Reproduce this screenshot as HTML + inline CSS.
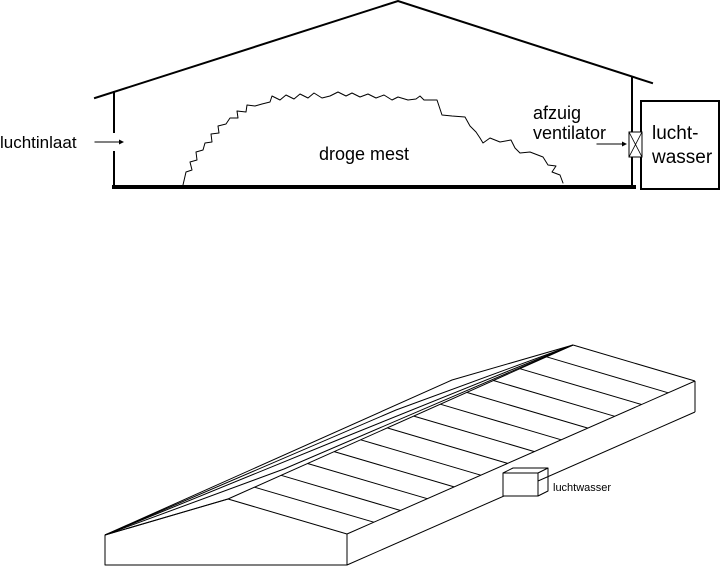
<!DOCTYPE html>
<html><head><style>
html,body{margin:0;padding:0;background:#fff;}
svg{display:block;}
text{font-family:"Liberation Sans",Arial,sans-serif;fill:#000;}
</style></head><body>
<svg width="720" height="566" viewBox="0 0 720 566" xmlns="http://www.w3.org/2000/svg">
<g stroke="#000" fill="none" stroke-linecap="square">
<polyline points="95,98 398,1 652,83" stroke-width="2"/>
<line x1="114" y1="92" x2="114" y2="132" stroke-width="2"/>
<line x1="114" y1="152" x2="114" y2="187" stroke-width="2"/>
<line x1="632" y1="77" x2="632" y2="187" stroke-width="2"/>
<line x1="114" y1="187" x2="634" y2="187" stroke-width="4"/>
<rect x="641" y="101" width="78" height="88" stroke-width="2"/>
<rect x="629" y="132" width="13" height="25" stroke-width="1" fill="#fff"/>
<line x1="629" y1="132" x2="642" y2="157" stroke-width="0.8"/>
<line x1="642" y1="132" x2="629" y2="157" stroke-width="0.8"/>
<line x1="95" y1="142" x2="119" y2="142" stroke-width="1"/>
<line x1="597" y1="144" x2="622" y2="144" stroke-width="1"/>
<polyline stroke-width="1" stroke-linecap="round" stroke-linejoin="round" points="183,185 186,172 192,170 190,162 197,160 196,152 203,150 205,143 212,142 211,134 219,133 218,126 226,124 230,118 238,118 237,111 246,112 247,105 255,106 262,104 270,102 272,96 280,100 286,95 294,99 300,94 308,98 314,93 322,98 330,96 338,92 346,96 352,93 360,97 368,94 376,98 384,95 392,100 398,97 408,100 416,99 420,96 424,100 432,100 437,100 442,115 452,116 465,117 470,126 476,132 480,138 483,143 490,138 500,142 511,140 515,148 520,153 530,152 543,157 548,165 556,166 552,172 560,175 563,183"/>
</g>
<polygon points="119,139.5 124,142 119,144.5" fill="#000"/>
<polygon points="622,141.5 627,144 622,146.5" fill="#000"/>
<text x="0" y="148" font-size="17">luchtinlaat</text>
<text x="319" y="160" font-size="18">droge mest</text>
<text x="533" y="119" font-size="18">afzuig</text>
<text x="533" y="139" font-size="18">ventilator</text>
<text x="652" y="139" font-size="19">lucht-</text>
<text x="652" y="163" font-size="19">wasser</text>

<g stroke="#000" fill="none" stroke-width="1" stroke-linejoin="round">
<polyline points="105,535 105,565 347,565 347,534"/>
<line x1="347" y1="565" x2="695" y2="412"/>
<line x1="695" y1="412" x2="695" y2="381"/>
<line x1="347" y1="534" x2="695" y2="381"/>
<line x1="573" y1="345" x2="695" y2="381"/>
<line x1="105" y1="535" x2="228" y2="499"/>
<polyline points="105,535 228,499 573,345"/>
<polyline points="105,535 284,469 573,345"/>
<polyline points="105,535 340,439 573,345"/>
<polyline points="105,535 396,410 573,345"/>
<polyline points="105,535 452,380 573,345"/>
<line x1="228" y1="499" x2="347" y2="534"/>
<line x1="254.5" y1="487.2" x2="373.8" y2="522.2"/>
<line x1="281.1" y1="475.3" x2="400.5" y2="510.5"/>
<line x1="307.6" y1="463.5" x2="427.3" y2="498.7"/>
<line x1="334.2" y1="451.6" x2="454.1" y2="486.9"/>
<line x1="360.7" y1="439.8" x2="480.8" y2="475.2"/>
<line x1="387.2" y1="427.9" x2="507.6" y2="463.4"/>
<line x1="413.8" y1="416.1" x2="534.4" y2="451.6"/>
<line x1="440.3" y1="404.2" x2="561.2" y2="439.8"/>
<line x1="466.8" y1="392.4" x2="587.9" y2="428.1"/>
<line x1="493.4" y1="380.5" x2="614.7" y2="416.3"/>
<line x1="519.9" y1="368.7" x2="641.5" y2="404.5"/>
<line x1="546.5" y1="356.8" x2="668.2" y2="392.8"/>
<rect x="503" y="473" width="35" height="23" fill="#fff"/>
<polyline points="503,473 513,468 548,468 538,473"/>
<polyline points="548,468 548,491 538,496"/>
</g>
<text x="553" y="491" font-size="11">luchtwasser</text>
</svg>
</body></html>
